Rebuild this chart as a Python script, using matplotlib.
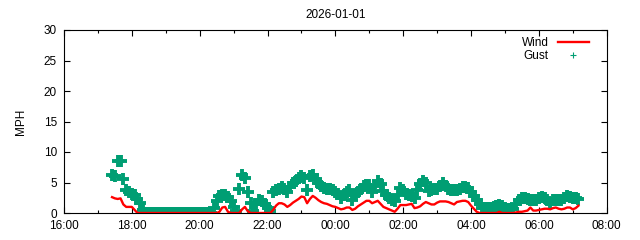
import matplotlib
matplotlib.use("Agg")
import matplotlib.pyplot as plt
import matplotlib.dates as mdates
from matplotlib.lines import Line2D
import pandas as pd

plt.rcParams['font.family'] = ['Liberation Sans', 'DejaVu Sans']

# readings every 5 minutes, starting 17:25 on the evening before
start = "2025-12-31 17:25"
wind = [2.6, 2.4, 2.3, 2.4, 1.4, 1.0, 1.0, 1.0, 0.5, 0.0,
        0.0, 0.0, 0.0, 0.0, 0.0, 0.0, 0.0, 0.0, 0.0, 0.0,
        0.0, 0.0, 0.0, 0.0, 0.0, 0.0, 0.0, 0.0, 0.0, 0.0,
        0.0, 0.0, 0.0, 0.0, 0.0, 0.0, 0.0, 0.0, 0.2, 0.9,
        1.0, 0.2, 0.0, 0.0, 0.0, 0.0, 0.6, 1.0, 0.3, 0.0,
        0.0, 0.0, 0.0, 0.0, 0.0, 0.0, 0.0, 0.5, 1.2, 1.6,
        1.6, 1.4, 1.0, 1.3, 1.7, 2.0, 2.3, 2.7, 2.6, 1.6,
        2.3, 2.8, 2.5, 2.1, 1.8, 1.6, 1.5, 1.3, 1.1, 1.0,
        0.8, 0.6, 0.7, 0.9, 0.9, 0.5, 0.7, 1.1, 1.4, 1.7,
        2.0, 2.0, 1.6, 1.8, 2.0, 1.5, 1.0, 0.8, 0.6, 0.4,
        0.2, 0.7, 1.3, 1.3, 1.3, 1.4, 1.5, 0.8, 0.9, 1.1,
        1.5, 1.8, 1.6, 1.4, 1.4, 1.7, 1.9, 1.9, 1.9, 1.8,
        1.6, 1.4, 1.8, 1.9, 2.0, 2.0, 1.8, 1.2, 0.7, 0.2,
        0.0, 0.0, 0.0, 0.0, 0.0, 0.0, 0.0, 0.2, 0.0, 0.0,
        0.0, 0.0, 0.0, 0.1, 0.2, 0.2, 0.3, 0.4, 0.9, 0.4,
        0.4, 0.5, 0.6, 0.7, 0.7, 0.6, 0.8, 0.9, 0.7, 0.6,
        0.7, 0.9, 0.9, 0.6, 0.8, 1.2]
gust = [6.3, 6.1, 8.5, 8.5, 5.6, 3.8, 3.4, 3.1, 3.0, 2.3,
        1.7, 0.5, 0.0, 0.0, 0.0, 0.0, 0.0, 0.0, 0.0, 0.0,
        0.0, 0.0, 0.0, 0.0, 0.0, 0.0, 0.0, 0.0, 0.0, 0.0,
        0.0, 0.0, 0.0, 0.0, 0.0, 0.0, 0.8, 2.0, 2.8, 2.9,
        2.9, 2.6, 2.0, 1.0, 0.3, 4.0, 6.2, 5.8, 3.5, 1.6,
        0.3, 1.5, 2.1, 1.9, 1.4, 0.8, 0.3, 3.4, 3.7, 4.0,
        4.2, 3.9, 3.5, 4.3, 4.9, 5.2, 5.7, 6.0, 5.8, 3.8,
        6.0, 6.2, 5.5, 4.9, 4.4, 4.1, 4.0, 3.9, 3.8, 3.5,
        3.1, 2.5, 2.9, 3.5, 3.8, 2.1, 3.0, 3.5, 3.9, 4.4,
        4.6, 4.6, 3.5, 4.5, 5.2, 4.8, 3.6, 3.0, 2.5, 2.1,
        1.9, 3.0, 4.1, 3.8, 3.1, 3.0, 2.8, 2.4, 3.8, 4.8,
        5.2, 5.0, 3.6, 3.7, 3.9, 4.0, 4.4, 4.9, 4.5, 4.0,
        3.8, 3.8, 3.8, 4.0, 4.3, 4.2, 4.1, 3.4, 2.8, 2.1,
        1.5, 0.9, 0.8, 0.8, 0.8, 1.0, 1.2, 1.3, 1.1, 0.8,
        0.7, 0.7, 0.7, 1.5, 2.2, 2.4, 2.4, 2.3, 2.2, 2.1,
        2.2, 2.4, 2.6, 2.5, 2.2, 1.6, 2.1, 2.1, 2.1, 2.2,
        2.4, 2.8, 2.6, 2.4, 2.4, 2.3]
times = pd.date_range(start, periods=len(wind), freq="5min")

green = '#009e73'
red = '#ff0000'

fig = plt.figure(figsize=(6.4, 2.4), dpi=100)
ax = fig.add_axes([0.1, 0.1125, 0.848, 0.7625])

ax.plot(times, gust, linestyle='none', marker='+', color=green,
        markersize=8, markeredgewidth=2.8, zorder=2)
ax.plot(times, wind, color=red, linewidth=1.7, zorder=3)

ax.set_xlim(pd.Timestamp("2025-12-31 16:00"), pd.Timestamp("2026-01-01 08:00"))
ax.set_ylim(0, 30)
ax.set_yticks(range(0, 31, 5))
ax.xaxis.set_major_locator(mdates.HourLocator(byhour=range(0, 24, 2)))
ax.xaxis.set_minor_locator(mdates.HourLocator())
ax.xaxis.set_major_formatter(mdates.DateFormatter('%H:%M'))
ax.tick_params(which='both', direction='in', top=True, right=True,
               labelsize=8.5, width=0.8, colors='black')
ax.tick_params(which='major', length=4)
ax.tick_params(which='minor', length=2.5)
ax.tick_params(axis='x', which='major', pad=5)
ax.tick_params(axis='y', which='major', pad=5)
for s in ax.spines.values():
    s.set_linewidth(0.8)

ax.set_ylabel('MPH', fontsize=8.5, labelpad=12)
ax.set_title('2026-01-01', fontsize=8.5, pad=9)

handles = [Line2D([], [], color=red, linewidth=1.7),
           Line2D([], [], linestyle='none', marker='+', color=green,
                  markersize=5, markeredgewidth=0.8)]
ax.legend(handles, ['Wind', 'Gust'], loc='upper right', frameon=False,
          markerfirst=False, fontsize=8.5, handlelength=2.6,
          labelspacing=0.05, borderaxespad=0.2, bbox_to_anchor=(0.98, 1.0))

fig.savefig('out.png', dpi=100)
